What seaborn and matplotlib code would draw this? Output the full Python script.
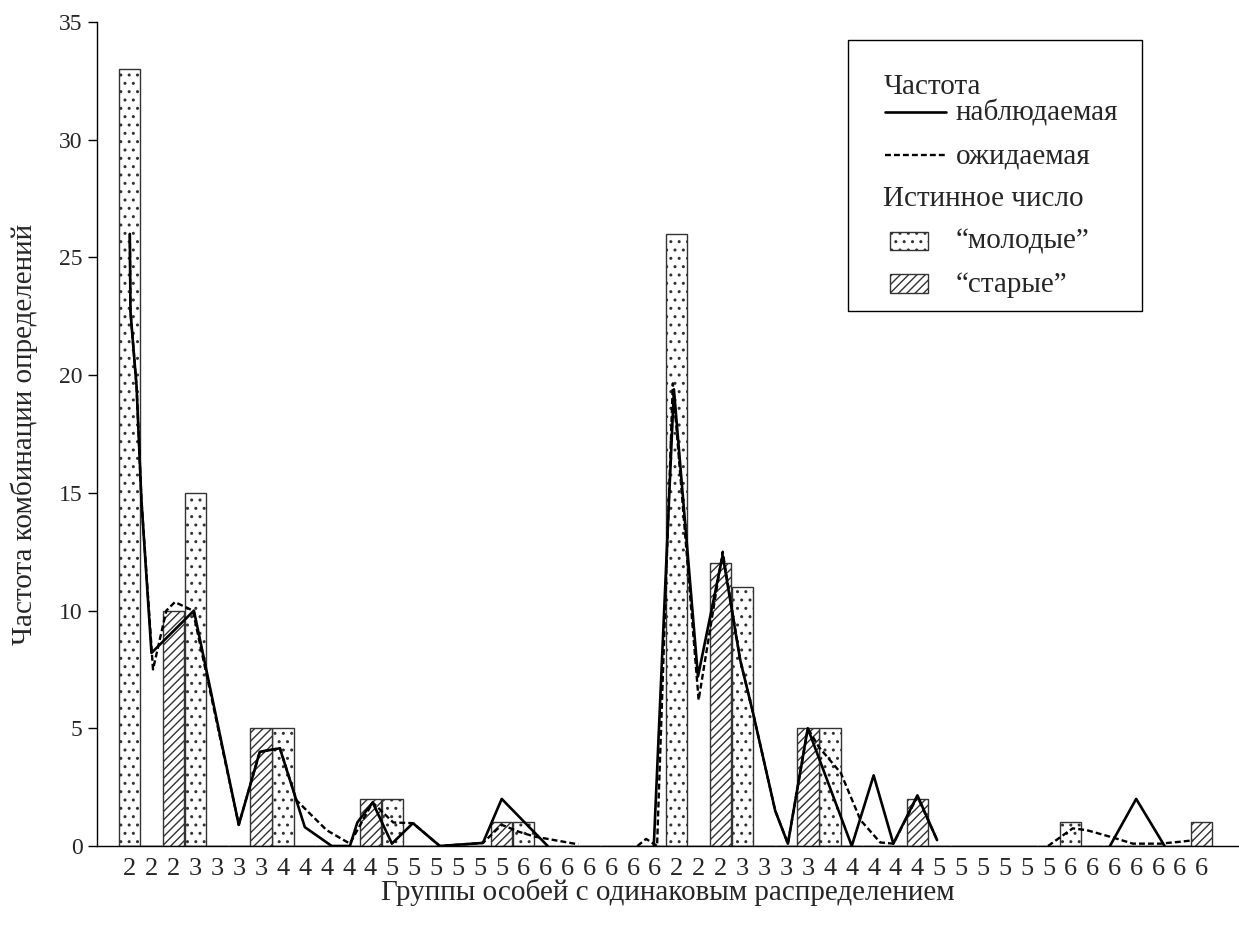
import numpy as np
import pandas as pd
import matplotlib
matplotlib.use("Agg")
import matplotlib.pyplot as plt
import matplotlib.text as mtext
import seaborn as sns
from matplotlib.legend_handler import HandlerBase
from matplotlib.patches import Rectangle, Patch
from matplotlib.lines import Line2D

# ---------------- data ----------------
group_labels = ["2", "2", "2", "3", "3", "3", "3", "4", "4", "4", "4", "4",
                "5", "5", "5", "5", "5", "5", "6", "6", "6", "6", "6", "6", "6",
                "2", "2", "2", "3", "3", "3", "3", "4", "4", "4", "4", "4",
                "5", "5", "5", "5", "5", "5", "6", "6", "6", "6", "6", "6", "6"]

# true number ("молодые" = young, "старые" = old) per combination
young = [33, 0, 0, 15, 0, 0, 0, 5, 0, 0, 0, 0, 2, 0, 0, 0, 0, 0, 1, 0, 0, 0, 0, 0, 0,
         26, 0, 0, 11, 0, 0, 0, 5, 0, 0, 0, 0, 0, 0, 0, 0, 0, 0, 1, 0, 0, 0, 0, 0, 0]
old = [0, 0, 10, 0, 0, 0, 5, 0, 0, 0, 0, 2, 0, 0, 0, 0, 0, 1, 0, 0, 0, 0, 0, 0, 0,
       0, 0, 12, 0, 0, 0, 5, 0, 0, 0, 0, 2, 0, 0, 0, 0, 0, 0, 0, 0, 0, 0, 0, 0, 1]

# observed frequency (solid line): x in category units
obs_x = [0.0, 0.03, 0.31, 0.53, 0.99, 2.93, 4.98, 5.94, 6.86, 8.0, 9.23, 10.06,
         10.4, 11.1, 11.98, 12.94, 14.17, 16.14, 17.0, 19.1,
         23.95, 24.87, 25.97, 27.1, 27.9, 28.5, 29.5, 30.08, 30.99, 33.0, 34.0,
         34.9, 36.0, 36.9,
         44.8, 46.0, 47.3]
obs_y = [26.0, 22.7, 19.5, 14.7, 8.2, 10.0, 0.9, 4.0, 4.15, 0.8, 0.0, 0.0,
         1.0, 1.85, 0.1, 0.97, 0.0, 0.13, 2.0, 0.0,
         0.0, 19.4, 7.2, 12.35, 7.9, 5.6, 1.5, 0.1, 5.0, 0.0, 3.0,
         0.1, 2.15, 0.25,
         0.0, 2.0, 0.0]
obs_seg = [1, 1, 1, 1, 1, 1, 1, 1, 1, 1, 1, 1, 1, 1, 1, 1, 1, 1, 1, 1,
           2, 2, 2, 2, 2, 2, 2, 2, 2, 2, 2, 2, 2, 2,
           3, 3, 3]

# expected frequency (dashed line)
exp_x = [0.0, 0.03, 0.31, 0.53, 1.06, 1.67, 2.06, 2.88, 4.98, 5.94, 6.86, 7.62,
         9.0, 10.06, 11.1, 12.04, 12.94, 14.17, 16.14, 17.0, 17.8, 18.5, 20.5,
         23.2, 23.6, 24.1, 24.82, 26.0, 27.1, 27.9, 28.5, 29.5, 30.08, 30.99,
         31.5, 32.5, 33.4, 34.3, 34.9, 36.0, 36.9,
         41.97, 43.1, 43.75, 44.9, 45.85, 47.1, 48.0, 48.6]
exp_y = [26.0, 22.7, 19.5, 14.7, 7.5, 10.0, 10.36, 10.0, 0.9, 4.0, 4.15, 1.94,
         0.67, 0.1, 1.85, 1.0, 0.97, 0.0, 0.13, 0.9, 0.6, 0.4, 0.07,
         0.0, 0.3, 0.0, 19.65, 6.2, 12.5, 7.9, 5.6, 1.5, 0.1, 5.0,
         4.2, 3.1, 1.1, 0.15, 0.1, 2.1, 0.25,
         0.0, 0.75, 0.67, 0.37, 0.1, 0.1, 0.18, 0.24]
exp_seg = [1, 1, 1, 1, 1, 1, 1, 1, 1, 1, 1, 1, 1, 1, 1, 1, 1, 1, 1, 1, 1, 1, 1,
           2, 2, 2, 2, 2, 2, 2, 2, 2, 2, 2, 2, 2, 2, 2, 2, 2, 2,
           3, 3, 3, 3, 3, 3, 3, 3]

# ---------------- style ----------------
sns.set_style("ticks")
plt.rcParams["font.family"] = ["Liberation Serif", "DejaVu Serif"]
plt.rcParams["hatch.linewidth"] = 1.0
plt.rcParams["hatch.color"] = "black"

FS = 21
EDGE = "#333333"

fig = plt.figure(figsize=(12.39, 9.25), dpi=100)
ax = fig.add_axes([97 / 1239, 79 / 925, 1142 / 1239, 824 / 925])

pos = np.arange(len(group_labels))
df_bars = pd.DataFrame({"pos": pos, "young": young, "old": old})

sns.barplot(data=df_bars, x="pos", y="young", native_scale=True, width=0.97,
            color="white", saturation=1, edgecolor=EDGE, linewidth=1,
            hatch="..", errorbar=None, ax=ax, zorder=1)
sns.barplot(data=df_bars, x="pos", y="old", native_scale=True, width=0.97,
            color="white", saturation=1, edgecolor=EDGE, linewidth=1,
            hatch="////", errorbar=None, ax=ax, zorder=1)

df_obs = pd.DataFrame({"x": obs_x, "y": obs_y, "seg": obs_seg})
df_exp = pd.DataFrame({"x": exp_x, "y": exp_y, "seg": exp_seg})
dash = (0, (2.5, 1.3))
sns.lineplot(data=df_exp, x="x", y="y", units="seg", estimator=None,
             color="black", linewidth=1.7, linestyle=dash, ax=ax, zorder=3)
sns.lineplot(data=df_obs, x="x", y="y", units="seg", estimator=None,
             color="black", linewidth=1.9, ax=ax, zorder=4)

# ---------------- axes ----------------
ax.set_xlim(-1.5, 50.7)
ax.set_ylim(0, 35)
ax.set_xticks(pos)
ax.set_xticklabels(group_labels)
ax.tick_params(axis="x", which="major", length=0, pad=8.5, labelsize=19)
ax.set_xticks(pos[::3], minor=True)
ax.tick_params(axis="x", which="minor", direction="in", length=5, width=1,
               color="black")
ax.set_yticks(range(0, 36, 5))
ax.tick_params(axis="y", direction="out", length=6.5, width=1, pad=4,
               labelsize=17, color="black")
sns.despine(ax=ax)
for s in ["left", "bottom"]:
    ax.spines[s].set_color("black")
    ax.spines[s].set_linewidth(1)
ax.set_xlabel("Группы особей с одинаковым распределением", fontsize=FS)
ax.set_ylabel("Частота комбинации определений", fontsize=FS)
ax.xaxis.set_label_coords(0.5, -0.040)
ax.yaxis.set_label_coords(-0.052, 0.5)


# ---------------- legend ----------------
OFF = 0.76  # left offset of legend marks inside their slot, in em


class Header:
    def __init__(self, text, dy=0.0):
        self.text = text
        self.dy = dy


class HeaderHandler(HandlerBase):
    def create_artists(self, legend, orig_handle, xdescent, ydescent, width,
                       height, fontsize, trans):
        t = mtext.Text(-xdescent + OFF * fontsize,
                       -orig_handle.dy * fontsize,
                       orig_handle.text, fontsize=fontsize, ha="left",
                       va="baseline", transform=trans)
        return [t]


class LineHandler(HandlerBase):
    def create_artists(self, legend, orig_handle, xdescent, ydescent, width,
                       height, fontsize, trans):
        x0 = -xdescent + (OFF + 0.07) * fontsize
        y = 0.3 * fontsize
        ln = Line2D([x0, -xdescent + width], [y, y])
        ln.update_from(orig_handle)
        ln.set_transform(trans)
        return [ln]


class BoxHandler(HandlerBase):
    def create_artists(self, legend, orig_handle, xdescent, ydescent, width,
                       height, fontsize, trans):
        x0 = -xdescent + (OFF + 0.24) * fontsize
        r = Rectangle((x0, -0.03 * fontsize), 1.3 * fontsize,
                      0.62 * fontsize)
        r.update_from(orig_handle)
        r.set_transform(trans)
        return [r]


young_patch = Patch(facecolor="white", edgecolor=EDGE, hatch="..",
                    linewidth=1)
old_patch = Patch(facecolor="white", edgecolor=EDGE, hatch="////",
                  linewidth=1)
obs_handle = Line2D([], [], color="black", lw=1.9)
exp_handle = Line2D([], [], color="black", lw=1.7, linestyle=dash)
handles = [Header("Частота", dy=0.55), obs_handle, exp_handle,
           Header("Истинное число"), young_patch, old_patch]
labels = ["", "наблюдаемая", "ожидаемая", "", "\u201cмолодые\u201d",
          "\u201cстарые\u201d"]
leg = ax.legend(handles, labels,
                handler_map={Header: HeaderHandler(), Line2D: LineHandler(),
                             Patch: BoxHandler()},
                loc="upper left",
                bbox_to_anchor=(751 / 1142, 0.5, 294 / 1142, 806 / 824 - 0.5),
                mode="expand", borderaxespad=0, frameon=True, fancybox=False,
                edgecolor="black", framealpha=1, fontsize=FS,
                handlelength=2.9, handleheight=1.2, handletextpad=0.34,
                labelspacing=0.41, borderpad=0.45)
leg.get_frame().set_linewidth(1)

fig.savefig("out.png", dpi=100)
